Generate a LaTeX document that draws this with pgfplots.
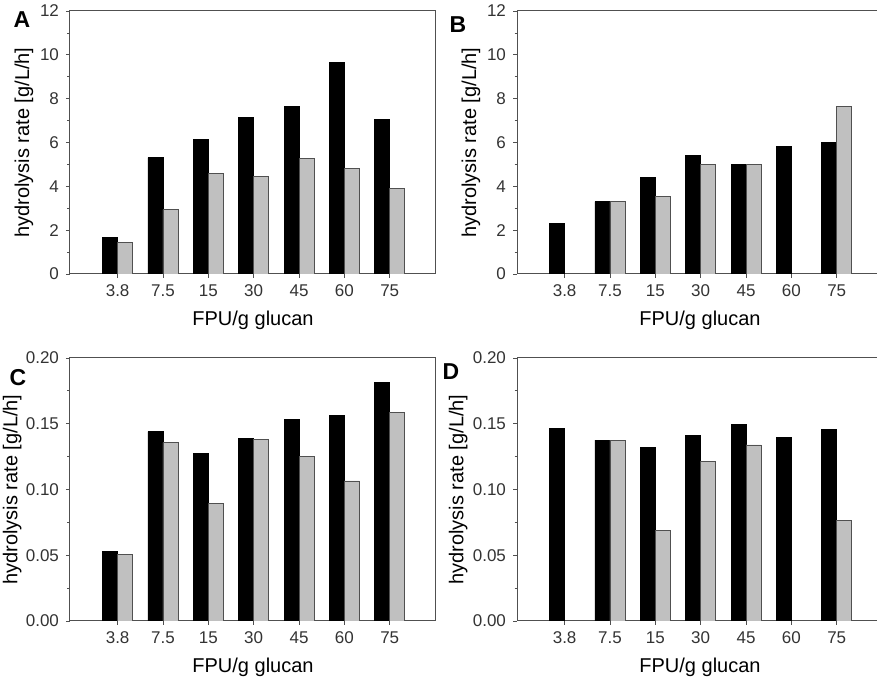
\documentclass[border=0pt]{standalone}
\usepackage{pgfplots}
\pgfplotsset{compat=1.18}
\usepackage{fontspec}
\setmainfont{Liberation Sans}
\newlength\px \setlength\px{0.5pt}
\definecolor{barg}{HTML}{C0C0C0}
\definecolor{axg}{HTML}{505050}
\definecolor{txt}{HTML}{333333}

\pgfplotsset{
 panel/.style={
  scale only axis, width=366\px, height=263\px,
  xmin=-1.05, xmax=7.02,
  xtick={0,...,6}, xticklabels={3.8,7.5,15,30,45,60,75},
  tick pos=left, tick align=outside,
  major tick length=4\px, minor tick length=2.5\px,
  minor y tick num=1, minor x tick num=0,
  axis line style={axg, line width=1\px},
  every tick/.style={axg, line width=0.8\px},
  tick label style={font=\fontsize{8.5}{10}\selectfont, text=txt},
  label style={font=\fontsize{9.7}{11}\selectfont, text=black!85},
  ymin=0,
  xlabel={FPU/g glucan}, ylabel={hydrolysis rate [g/L/h]},
  every axis x label/.style={at={(axis description cs:0.5,-0.175)}, anchor=center},
  /pgf/number format/assume math mode=true,
  ybar, bar width=15\px,
  anchor=north west,
 },
 big/.style={ymax=12, ytick={0,2,4,6,8,10,12}},
 small/.style={ymax=0.2, ytick={0,0.05,0.1,0.15,0.2}, scaled y ticks=false,
   yticklabel style={/pgf/number format/.cd, fixed, fixed zerofill, precision=2}},
 ylab/.style={every axis y label/.style={at={(axis description cs:#1,0.5)}, rotate=90, anchor=center}},
 blk/.style={fill=black, draw=black, line width=0.8\px, bar shift=-7.5\px},
 gry/.style={fill=barg, draw=axg, line width=0.8\px, bar shift=7.5\px},
}

\begin{document}
\begin{tikzpicture}
% Panel A
\begin{axis}[panel, big, ylab=-0.126, at={(70\px,-11\px)}]
\addplot[blk] coordinates {(0,1.67) (1,5.31) (2,6.15) (3,7.16) (4,7.63) (5,9.65) (6,7.05)};
\addplot[gry] coordinates {(0,1.45) (1,2.94) (2,4.60) (3,4.45) (4,5.28) (5,4.81) (6,3.90)};
\end{axis}
% Panel B
\begin{axis}[panel, big, ylab=-0.126, at={(517\px,-11\px)}]
\addplot[blk] coordinates {(0,2.30) (1,3.30) (2,4.39) (3,5.39) (4,4.98) (5,5.82) (6,6.01)};
\addplot[gry] coordinates {(1,3.30) (2,3.52) (3,4.98) (4,5.01) (6,7.63)};
\end{axis}
% Panel C
\begin{axis}[panel, small, ylab=-0.158, at={(70\px,-358\px)}]
\addplot[blk] coordinates {(0,0.0529) (1,0.1441) (2,0.1276) (3,0.1388) (4,0.1535) (5,0.1563) (6,0.1817)};
\addplot[gry] coordinates {(0,0.0508) (1,0.1357) (2,0.0895) (3,0.1382) (4,0.1250) (5,0.1065) (6,0.1583)};
\end{axis}
% Panel D
\begin{axis}[panel, small, ylab=-0.161, at={(517\px,-358\px)}]
\addplot[blk] coordinates {(0,0.1464) (1,0.1375) (2,0.1321) (3,0.1410) (4,0.1494) (5,0.1393) (6,0.1456)};
\addplot[gry] coordinates {(1,0.1375) (2,0.0686) (3,0.1212) (4,0.1339) (6,0.0767)};
\end{axis}
\node[font=\bfseries\fontsize{11.5}{13}\selectfont] at (22\px,-20\px) {A};
\node[font=\bfseries\fontsize{11.5}{13}\selectfont] at (458\px,-25\px) {B};
\node[font=\bfseries\fontsize{11.5}{13}\selectfont] at (18\px,-378\px) {C};
\node[font=\bfseries\fontsize{11.5}{13}\selectfont] at (451\px,-372\px) {D};
\pgfresetboundingbox
\useasboundingbox (0,0) rectangle (877\px,-688\px);
\end{tikzpicture}
\end{document}
